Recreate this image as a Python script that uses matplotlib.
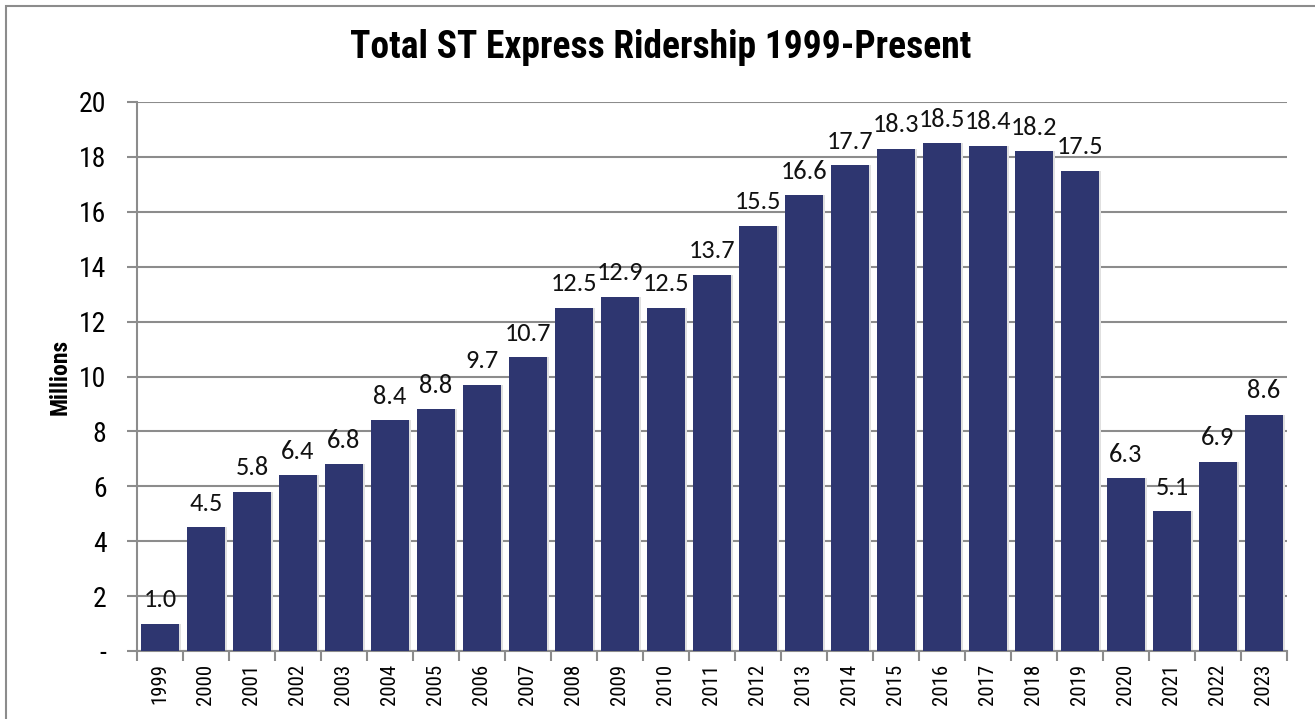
import matplotlib
matplotlib.use("Agg")
import matplotlib.pyplot as plt
from matplotlib.patches import Rectangle
from matplotlib.ticker import FixedLocator

years = ["1999", "2000", "2001", "2002", "2003", "2004", "2005", "2006", "2007",
         "2008", "2009", "2010", "2011", "2012", "2013", "2014", "2015", "2016",
         "2017", "2018", "2019", "2020", "2021", "2022", "2023"]
ridership = [1.0, 4.5, 5.8, 6.4, 6.8, 8.4, 8.8, 9.7, 10.7, 12.5, 12.9, 12.5, 13.7,
             15.5, 16.6, 17.7, 18.3, 18.5, 18.4, 18.2, 17.5, 6.3, 5.1, 6.9, 8.6]
yticks = [0, 2, 4, 6, 8, 10, 12, 14, 16, 18, 20]
ytick_labels = ["-", "2", "4", "6", "8", "10", "12", "14", "16", "18", "20"]

NARROW = ["Roboto Condensed", "Liberation Sans", "DejaVu Sans"]
LABEL_FONT = ["Carlito", "Lato", "DejaVu Sans"]
BAR = "#2E3670"
GRID = "#8C8C8C"

fig = plt.figure(figsize=(13.15, 7.19), dpi=100)
fig.patches.append(Rectangle((6 / 1315, -0.5), 2.0, 1.5 - 6 / 719, transform=fig.transFigure,
                             fill=False, edgecolor="#8C8C8C", linewidth=1.5, zorder=0))

ax = fig.add_axes([137 / 1315, 68 / 719, 1150 / 1315, 549 / 719])
x = list(range(len(years)))
w = 0.82
ax.bar([i + 0.05 for i in x], ridership, width=w, color="#E0E0E0", zorder=2)
ax.bar(x, ridership, width=w, color=BAR, zorder=3)

for xi, v in zip(x, ridership):
    ax.annotate(f"{v:.1f}", (xi, v), xytext=(0, 9), textcoords="offset points",
                ha="center", va="bottom", fontsize=19, family=LABEL_FONT,
                color="#111111", zorder=5)

ax.set_xlim(-0.5, len(years) - 0.5)
ax.set_ylim(0, 20)
ax.set_yticks(yticks)
ax.set_yticklabels(ytick_labels, family=NARROW, fontsize=20)
ax.yaxis.grid(True, color=GRID, linewidth=1.5, zorder=1)
ax.set_axisbelow(True)

ax.set_xticks(x)
ax.set_xticklabels(years, rotation=90, family=NARROW, fontsize=15)
ax.tick_params(axis="x", length=0, pad=9)
ax.xaxis.set_minor_locator(FixedLocator([i - 0.5 for i in range(len(years) + 1)]))
ax.tick_params(axis="x", which="minor", length=7, width=1.5, color=GRID)
ax.tick_params(axis="y", length=7, width=1.5, color=GRID, pad=15)

for s in ["top", "right"]:
    ax.spines[s].set_visible(False)
for s in ["left", "bottom"]:
    ax.spines[s].set_color(GRID)
    ax.spines[s].set_linewidth(1.5)

ax.set_ylabel("Millions", family=NARROW, fontsize=17, fontweight="bold", labelpad=5)
fig.text(661 / 1315, 1 - 48 / 719, "Total ST Express Ridership 1999-Present",
         ha="center", va="center", family=NARROW, fontsize=27, fontweight="bold")

fig.savefig("out.png", dpi=100)
